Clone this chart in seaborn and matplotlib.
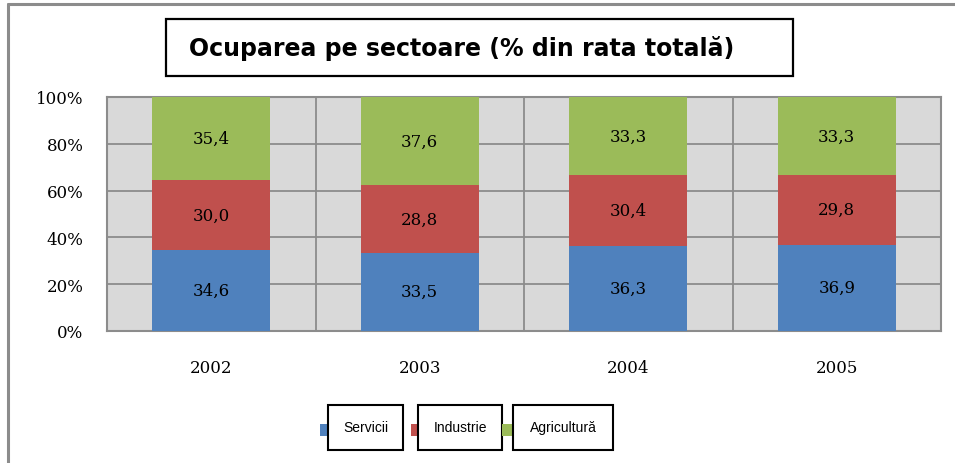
import matplotlib
matplotlib.use("Agg")
import matplotlib.pyplot as plt
from matplotlib.patches import Rectangle
from matplotlib.lines import Line2D
import seaborn as sns
import pandas as pd
import numpy as np

years = ["2002", "2003", "2004", "2005"]
servicii = [34.6, 33.5, 36.3, 36.9]
industrie = [30.0, 28.8, 30.4, 29.8]
agricultura = [35.4, 37.6, 33.3, 33.3]
series_names = ["Servicii", "Industrie", "Agricultură"]
colors = ["#4F81BD", "#C0504D", "#9BBB59"]
yticks = [0, 20, 40, 60, 80, 100]
ytick_labels = ["0%", "20%", "40%", "60%", "80%", "100%"]
title = "Ocuparea pe sectoare (% din rata totală)"

W, H = 955, 464
sns.set_theme(style="white")
plt.rcParams["font.family"] = ["DejaVu Sans"]
plt.rcParams["text.color"] = "black"
plt.rcParams["xtick.color"] = "black"
plt.rcParams["ytick.color"] = "black"

fig = plt.figure(figsize=(W / 100, H / 100), dpi=100)
fig.patch.set_facecolor("white")


def fx(x):
    return x / W


def fy(y):
    return 1 - y / H


left, right, top, bottom = 107, 941, 98, 332
ax = fig.add_axes([fx(left), fy(bottom), (right - left) / W, (bottom - top) / H])
ax.set_facecolor("#D9D9D9")

df = pd.DataFrame({"year": years, "Servicii": servicii, "Industrie": industrie,
                   "Agricultură": agricultura})

base = np.zeros(len(years))
for name, col in zip(series_names, colors):
    vals = np.array(df[name])
    sns.barplot(x=df["year"], y=vals, bottom=base, color=col, width=0.566,
                saturation=1, ax=ax, zorder=3, linewidth=0)
    for i, v in enumerate(vals):
        ax.text(i, base[i] + v / 2, f"{v:.1f}".replace(".", ","), ha="center",
                va="center", fontsize=12, family="DejaVu Serif", color="black",
                zorder=4)
    base = base + vals

ax.set_xlim(-0.5, len(years) - 0.5)
ax.set_ylim(0, 100)
ax.set_yticks(yticks)
ax.set_yticklabels(ytick_labels, family="DejaVu Serif", fontsize=12)
ax.set_xticks(range(len(years)))
ax.set_xticklabels(years, family="DejaVu Serif", fontsize=12)
ax.set_xticks(np.arange(0.5, len(years) - 0.5, 1), minor=True)
ax.tick_params(axis="both", which="both", length=0)
ax.tick_params(axis="y", pad=17)
ax.tick_params(axis="x", pad=20)
ax.set_xlabel("")
ax.set_ylabel("")
ax.grid(axis="y", which="major", color="#8C8C8C", linewidth=1.3, zorder=1)
ax.grid(axis="x", which="minor", color="#8C8C8C", linewidth=1.3, zorder=1)
ax.set_axisbelow(True)
for s in ax.spines.values():
    s.set_color("#8C8C8C")
    s.set_linewidth(1.5)

# outer frame
fig.add_artist(Line2D([fx(8), 1], [fy(5), fy(5)], color="#8C8C8C", linewidth=2.2))
fig.add_artist(Line2D([fx(8), fx(8)], [fy(5), 0], color="#8C8C8C", linewidth=2.2))

# title box
fig.add_artist(Rectangle((fx(166), fy(77)), (793 - 166) / W, (77 - 20) / H,
                         facecolor="white", edgecolor="black", linewidth=1.6))
fig.text(fx(461.5), fy(48.5), title, ha="center", va="center", fontsize=17,
         fontweight="bold", color="black")

# legend
boxes = [(328, 403), (418, 502), (513, 613)]
squares = [320, 411, 502]
for name, col, (bx0, bx1), sq in zip(series_names, colors, boxes, squares):
    fig.add_artist(Rectangle((fx(sq), fy(437)), 12 / W, 12 / H, facecolor=col,
                             edgecolor="none"))
    fig.add_artist(Rectangle((fx(bx0), fy(451)), (bx1 - bx0) / W, 45 / H,
                             facecolor="white", edgecolor="black", linewidth=1.5))
    fig.text(fx((bx0 + bx1) / 2), fy(428.5), name, ha="center", va="center",
             fontsize=10, color="black",
             family=["Liberation Sans Narrow", "Liberation Sans", "DejaVu Sans"])

fig.savefig("out.png", dpi=100)
